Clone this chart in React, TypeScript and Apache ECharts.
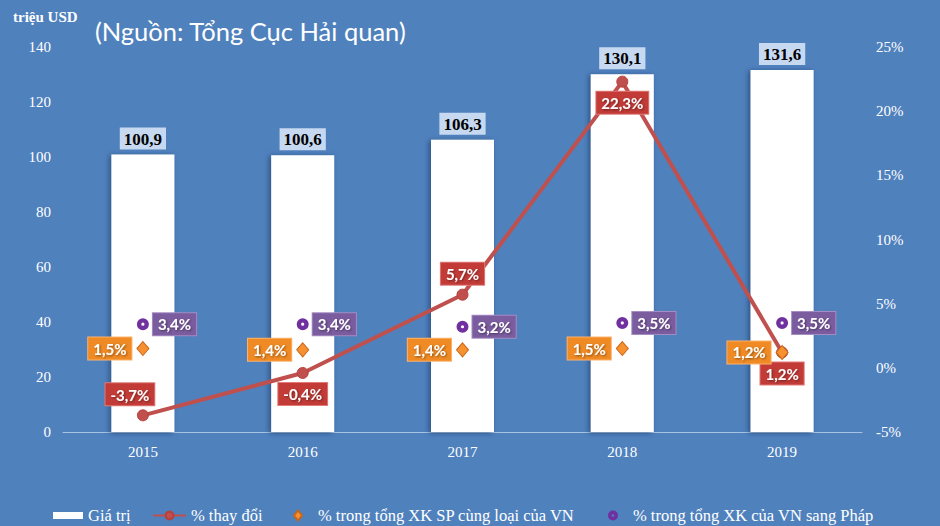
import React, { useEffect, useRef } from 'react';
import * as echarts from 'echarts';

const years = ['2015', '2016', '2017', '2018', '2019'];
const exportValue = [100.9, 100.6, 106.3, 130.1, 131.6];
const changePct = [-3.7, -0.4, 5.7, 22.3, 1.2];
const shareSameProduct = [1.5, 1.4, 1.4, 1.5, 1.2];
const shareToFrance = [3.4, 3.4, 3.2, 3.5, 3.5];
const leftTicks = { min: 0, max: 140, interval: 20 };
const rightTicks = { min: -5, max: 25, interval: 5 };

const seriesNames = [
  'Giá trị',
  '% thay đổi',
  '% trong tổng XK SP cùng loại của VN',
  '% trong tổng XK của VN sang Pháp',
];

const changeLabelPos = ['top', 'bottom', 'top', 'bottom', 'bottom'];
const changeLabelOffset = [[-13, 0], [0, 0], [0, 0], [0, 0], [0, 0]];

const fmt = (v: number) => v.toFixed(1).replace('.', ',');

const BG = '#4f81bd';
const RED = '#c0504d';
const ORANGE = '#f7912f';
const PURPLE = '#7030a0';
const RING =
  'path://M0,-6A6,6 0 1,1 0,6A6,6 0 1,1 0,-6ZM0,-1.6A1.6,1.6 0 1,0 0,1.6A1.6,1.6 0 1,0 0,-1.6Z';

const boxLabel = (bg: string, border: string) => ({
  show: true,
  color: '#fff',
  fontFamily: 'Lato',
  fontWeight: 'bold' as const,
  fontSize: 15,
  backgroundColor: bg,
  borderColor: border,
  borderWidth: 1,
  padding: [4, 5, 3, 5],
  textShadowColor: 'rgba(0,0,0,0.45)',
  textShadowBlur: 2,
  textShadowOffsetX: 1,
  textShadowOffsetY: 1,
});

export default function App() {
  const ref = useRef<HTMLDivElement>(null);
  useEffect(() => {
    document.body.style.margin = '0';
    const chart = echarts.init(ref.current!, null, { renderer: 'svg' });
    const legendText = { color: '#fff', fontFamily: 'Liberation Serif', fontSize: 16.5 };
    chart.setOption({
      animation: false,
      backgroundColor: BG,
      grid: { left: 63, right: 78, top: 47, bottom: 94, containLabel: false },
      graphic: [
        {
          type: 'text',
          left: 13,
          top: 9,
          style: { text: 'triệu USD', fill: '#fff', font: 'bold 15px "Liberation Serif"' },
        },
        {
          type: 'text',
          left: 95,
          top: 18,
          style: { text: '(Nguồn: Tổng Cục Hải quan)', fill: '#fff', font: '25.5px Lato' },
        },
      ],
      legend: [
        { left: 48, top: 502, itemWidth: 30, itemHeight: 7, textStyle: legendText, data: [{ name: seriesNames[0], icon: 'rect' }] },
        { left: 147, top: 502, itemWidth: 33, itemHeight: 10, textStyle: legendText, data: [seriesNames[1]] },
        {
          left: 288,
          top: 502,
          itemWidth: 8,
          itemHeight: 10,
          textStyle: { ...legendText, padding: [0, 0, 0, 11] },
          data: [seriesNames[2]],
        },
        {
          left: 603,
          top: 502,
          itemWidth: 10,
          itemHeight: 10,
          textStyle: { ...legendText, padding: [0, 0, 0, 10] },
          data: [seriesNames[3]],
        },
      ],
      xAxis: {
        type: 'category',
        data: years,
        axisLine: { lineStyle: { color: '#a8c2e4', width: 1 } },
        axisTick: { show: false },
        axisLabel: { color: '#fff', fontFamily: 'Liberation Serif', fontSize: 15, margin: 12 },
      },
      yAxis: [
        {
          type: 'value',
          ...leftTicks,
          splitLine: { show: false },
          axisLine: { show: false },
          axisTick: { show: false },
          axisLabel: { color: '#fff', fontFamily: 'Liberation Serif', fontSize: 15, margin: 12 },
        },
        {
          type: 'value',
          ...rightTicks,
          splitLine: { show: false },
          axisLine: { show: false },
          axisTick: { show: false },
          axisLabel: {
            color: '#fff',
            fontFamily: 'Liberation Serif',
            fontSize: 15,
            margin: 14,
            formatter: '{value}%',
          },
        },
      ],
      series: [
        {
          name: seriesNames[0],
          type: 'bar',
          data: exportValue,
          barWidth: 63,
          z: 1,
          itemStyle: {
            color: '#ffffff',
            shadowColor: 'rgba(20,40,80,0.55)',
            shadowBlur: 5,
            shadowOffsetX: -2,
            shadowOffsetY: 1,
          },
          label: {
            show: true,
            position: 'top',
            distance: 5,
            formatter: (p: any) => fmt(p.value),
            color: '#000',
            fontFamily: 'Liberation Serif',
            fontWeight: 'bold',
            fontSize: 17,
            backgroundColor: '#c6d9f1',
            padding: [3, 4, 2, 4],
          },
        },
        {
          name: seriesNames[1],
          type: 'line',
          yAxisIndex: 1,
          z: 3,
          data: changePct.map((v, i) => ({
            value: v,
            label: { position: changeLabelPos[i], offset: changeLabelOffset[i] },
          })),
          symbol: 'circle',
          symbolSize: 11,
          lineStyle: { color: RED, width: 4 },
          itemStyle: { color: RED, borderColor: '#b8403d', borderWidth: 1 },
          label: {
            ...boxLabel('#c23b37', '#e07b78'),
            distance: 4,
            formatter: (p: any) => fmt(p.value) + '%',
          },
        },
        {
          name: seriesNames[2],
          type: 'scatter',
          yAxisIndex: 1,
          z: 4,
          data: shareSameProduct,
          symbol: 'diamond',
          symbolSize: [12, 14],
          itemStyle: { color: ORANGE, borderColor: '#c8661c', borderWidth: 1, opacity: 1 },
          label: {
            ...boxLabel('#f08a24', '#fbb36d'),
            position: 'left',
            distance: 5,
            formatter: (p: any) => fmt(p.value) + '%',
          },
        },
        {
          name: seriesNames[3],
          type: 'scatter',
          yAxisIndex: 1,
          z: 4,
          data: shareToFrance,
          symbol: RING,
          symbolSize: 12,
          itemStyle: { color: PURPLE, opacity: 1 },
          label: {
            ...boxLabel('#7b5c9f', '#a58cc3'),
            position: 'right',
            distance: 4,
            formatter: (p: any) => fmt(p.value) + '%',
          },
        },
      ],
    });
    return () => chart.dispose();
  }, []);
  return <div ref={ref} style={{ width: 940, height: 526 }} />;
}
